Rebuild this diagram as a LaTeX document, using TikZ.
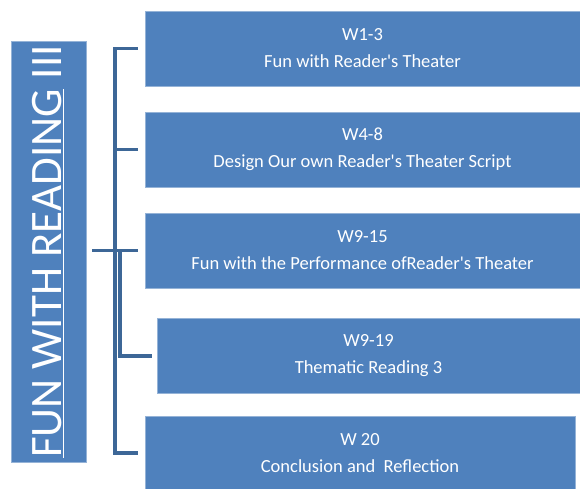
\documentclass[tikz,border=0pt]{standalone}
\usepackage{fontspec}
\setmainfont{Carlito}
\usepackage{tikz}
\usetikzlibrary{calc,positioning}
\definecolor{boxblue}{HTML}{4F81BD}
\definecolor{linkblue}{HTML}{3D6797}
\newcommand{\apos}{\textquotesingle}

\begin{document}
\begin{tikzpicture}[x=1pt,y=-1pt,
  box/.style={fill=boxblue, draw=boxblue!60!white, line width=0.6pt, text=white, align=center,
    minimum height=75, inner sep=0pt, font=\fontsize{18.5}{27}\selectfont},
  heading/.style={fill=boxblue, draw=boxblue!60!white, line width=0.6pt, text=white, rotate=90,
    minimum width=421, minimum height=75, inner sep=0pt, font=\fontsize{45}{45}\selectfont},
  link/.style={draw=linkblue, line width=3.6pt}]
\useasboundingbox (0,0) rectangle (580,489);
\node[heading] (T) at (48.5,251.5) {\raisebox{-4pt}{\underline{FUN WITH READING} III}};
\node[box, minimum width=435] (W1) at (362.5,48.5) {W1-3\\Fun with Reader\apos s Theater};
\node[box, minimum width=435] (W2) at (362.5,149.5) {W4-8\\Design Our own Reader\apos s Theater Script};
\node[box, minimum width=435] (W3) at (362.5,250.5) {W9-15\\Fun with the Performance ofReader\apos s Theater};
\node[box, minimum width=423] (W4) at (368.5,356) {W9-19\\Thematic Reading 3};
\node[box, minimum width=430, minimum height=74] (W5) at (360,453) {W 20\\Conclusion and \ Reflection};
% bracket
\coordinate (spine) at (115,0);
\coordinate (spine2) at (120,0);
\coordinate (H) at (92,0);
\draw[link] ([xshift=-7pt]W1.west) -- (spine |- W1.west) -- (spine |- W5.west) -- ([xshift=-7pt]W5.west);
\draw[link] (spine |- W2.west) -- ([xshift=-7pt]W2.west);
\draw[link] (H |- W3.west) -- ([xshift=-7pt]W3.west);
\draw[link] (spine2 |- W3.west) |- ([xshift=-5pt]W4.west);
\end{tikzpicture}
\end{document}
